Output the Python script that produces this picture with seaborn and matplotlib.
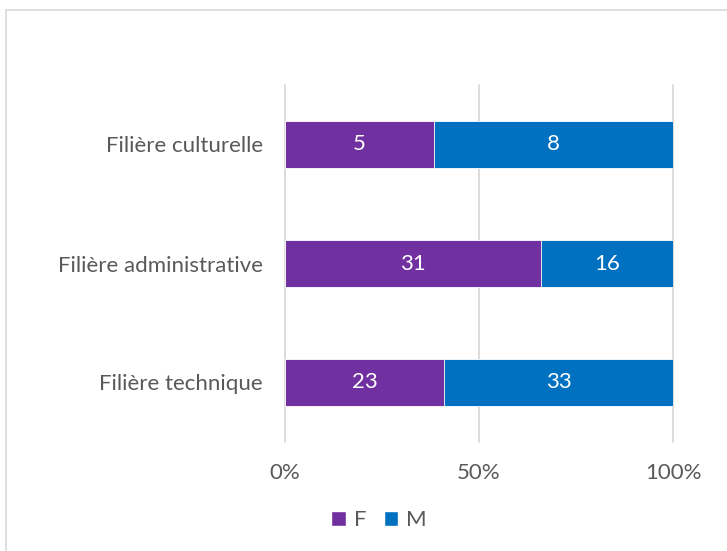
import numpy as np
import pandas as pd
import matplotlib
matplotlib.use("Agg")
import matplotlib.pyplot as plt
import seaborn as sns
from matplotlib.patches import Patch, Rectangle

# Data
categories = ["Filière culturelle", "Filière administrative", "Filière technique"]
f_counts = [5, 31, 23]
m_counts = [8, 16, 33]
tick_values = [0, 50, 100]
tick_labels = ["0%", "50%", "100%"]

PURPLE = "#7030A0"
BLUE = "#0070C0"
GREY_TXT = "#595959"
GRID = "#D9D9D9"
FS = 16

sns.set_theme(style="white")
plt.rcParams['font.family'] = ['Lato', 'DejaVu Sans']

df = pd.DataFrame({"cat": categories, "F": f_counts, "M": m_counts})
df["total"] = df["F"] + df["M"]
df["F_pct"] = df["F"] / df["total"] * 100
df["all_pct"] = df["total"] / df["total"] * 100

fig = plt.figure(figsize=(7.27, 5.51), dpi=100)
ax = fig.add_axes([285 / 727, 1 - 442 / 551, (673 - 285) / 727, (442 - 85) / 551])

# stacked: full bar in blue (M), then F share on top in purple
sns.barplot(data=df, y="cat", x="all_pct", color=BLUE, width=0.4, orient="h", saturation=1,
            edgecolor="white", linewidth=0.6, ax=ax, zorder=2)
sns.barplot(data=df, y="cat", x="F_pct", color=PURPLE, width=0.4, orient="h", saturation=1,
            edgecolor="white", linewidth=0.6, ax=ax, zorder=3)

for i, row in df.iterrows():
    ax.text(row["F_pct"] / 2, i, str(row["F"]), ha="center", va="center",
            color="white", fontsize=FS, zorder=4)
    ax.text(row["F_pct"] + (100 - row["F_pct"]) / 2, i, str(row["M"]), ha="center",
            va="center", color="white", fontsize=FS, zorder=4)

ax.set_xlim(0, 100)
ax.set_ylim(2.5, -0.5)
ax.set_xticks(tick_values)
ax.set_xticklabels(tick_labels)
ax.grid(False)
for gx in tick_values:
    ax.axvline(gx, color=GRID, linewidth=1.3, zorder=1, clip_on=False)
for s in ax.spines.values():
    s.set_visible(False)
ax.tick_params(axis="both", length=0, labelsize=FS, labelcolor=GREY_TXT)
ax.tick_params(axis="x", pad=15)
ax.tick_params(axis="y", pad=16)
ax.set_xlabel("")
ax.set_ylabel("")

handles = [Patch(facecolor=PURPLE, label="F"), Patch(facecolor=BLUE, label="M")]
fig.legend(handles=handles, loc="center", bbox_to_anchor=(379 / 727, 1 - 520 / 551),
           ncol=2, frameon=False, fontsize=FS, handlelength=0.65, handleheight=0.65,
           handletextpad=0.35, columnspacing=0.8, labelcolor=GREY_TXT)

# chart border
fig.patches.append(Rectangle((6 / 727, -0.1), 1.2, 1 - 10 / 551 + 0.1, transform=fig.transFigure,
                             fill=False, edgecolor=GRID, linewidth=1.2))

fig.savefig("out.png", dpi=100)
